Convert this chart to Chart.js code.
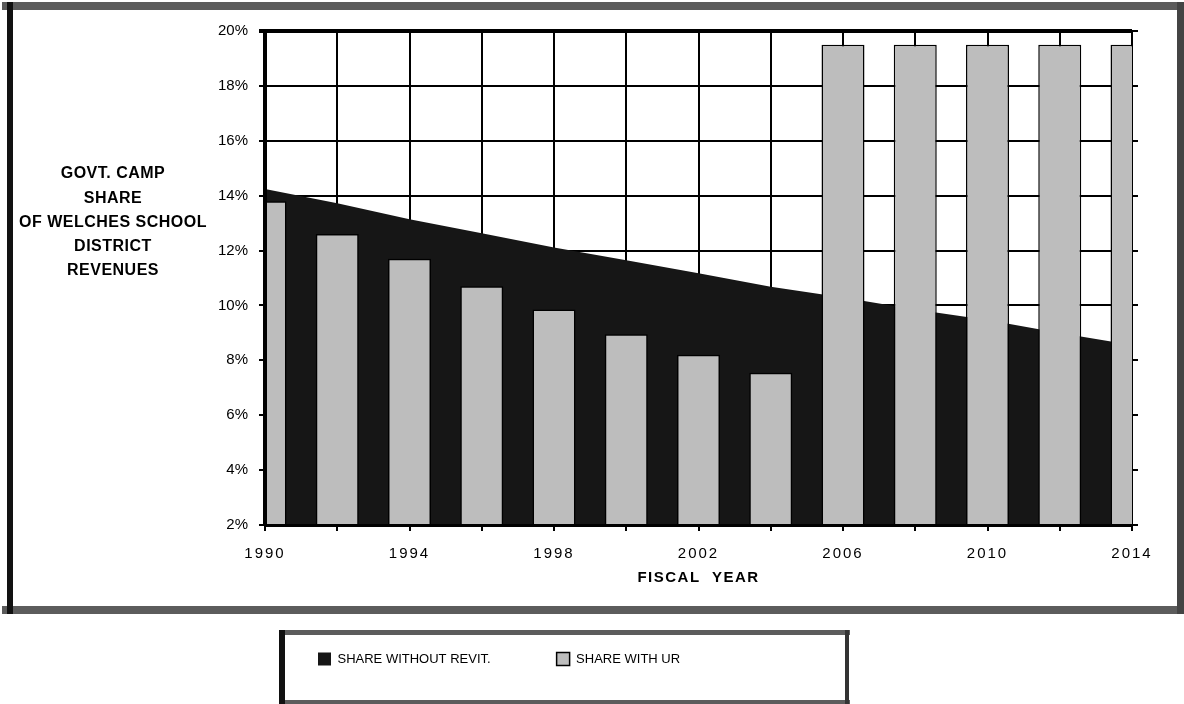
<!DOCTYPE html>
<html>
<head>
<meta charset="utf-8">
<title>Govt. Camp share of Welches School District revenues</title>
<script src="https://cdn.jsdelivr.net/npm/chart.js@4.4.1/dist/chart.umd.min.js"></script>
<style>
  html, body { margin: 0; padding: 0; background: #fff; }
  #wrap { width: 1184px; height: 704px; position: relative; }
</style>
</head>
<body>
<div id="wrap"><canvas id="chart" width="1184" height="704"></canvas></div>
<script>
// Fiscal years on the category axis (one every two years)
const fiscalYears = ['1990', '1992', '1994', '1996', '1998', '2000', '2002',
                     '2004', '2006', '2008', '2010', '2012', '2014'];
// Years that carry a printed label under the axis
const labelledYears = ['1990', '1994', '1998', '2002', '2006', '2010', '2014'];

// Share of district revenues, percent
const shareWithoutRevit = [14.24, 13.72, 13.14, 12.63, 12.11, 11.65, 11.17,
                           10.68, 10.29, 9.85, 9.47, 9.0, 8.56];
const shareWithUR = [13.8, 12.6, 11.7, 10.7, 9.85, 8.95, 8.2,
                     7.55, 19.5, 19.5, 19.5, 19.5, 19.5];

// Value axis ticks
const yTickValues = [2, 4, 6, 8, 10, 12, 14, 16, 18, 20];
const yTickLabels = ['2%', '4%', '6%', '8%', '10%', '12%', '14%', '16%', '18%', '20%'];

const seriesLabels = ['SHARE WITHOUT REVIT.', 'SHARE WITH UR'];
const yAxisCaption = ['GOVT. CAMP', 'SHARE', 'OF WELCHES SCHOOL', 'DISTRICT', 'REVENUES'];
const xAxisCaption = 'FISCAL  YEAR';

const FONT = '"Liberation Sans", Arial, Helvetica, sans-serif';

// Page frames: the bordered chart panel and the bordered legend panel
const framePlugin = {
  id: 'frames',
  beforeDraw(chart) {
    // the legend sits in its own panel, left of page centre
    const lg = chart.legend;
    if (lg) {
      const dx = 252 - lg.left;
      lg.left += dx;
      lg.right += dx;
    }
    const c = chart.ctx;
    c.save();
    c.fillStyle = '#fff';
    c.fillRect(0, 0, chart.width, chart.height);
    // chart panel
    c.fillStyle = '#5c5c5c';
    c.fillRect(2, 2, 1182, 8);      // top
    c.fillRect(2, 606, 1182, 8);    // bottom
    c.fillStyle = '#111';
    c.fillRect(7, 2, 6, 612);       // left
    c.fillStyle = '#444';
    c.fillRect(1177, 2, 7, 612);    // right
    // legend panel
    c.fillStyle = '#5c5c5c';
    c.fillRect(279, 630, 571, 5);   // top
    c.fillRect(279, 700, 571, 4);   // bottom
    c.fillStyle = '#111';
    c.fillRect(279, 630, 6, 74);    // left
    c.fillStyle = '#333';
    c.fillRect(845, 630, 4, 74);    // right
    c.restore();
  },
  // the year labels are printed with wide letter spacing
  afterDatasetsDraw(chart) {
    chart.ctx.letterSpacing = '2px';
  }
};

// Horizontal axis captions (left block and bottom title)
const captionPlugin = {
  id: 'captions',
  afterDraw(chart) {
    const c = chart.ctx;
    const area = chart.chartArea;
    c.letterSpacing = '0px';
    c.save();
    c.fillStyle = '#000';
    c.textAlign = 'center';
    c.textBaseline = 'middle';
    c.font = 'bold 16px ' + FONT;
    c.letterSpacing = '0.5px';
    yAxisCaption.forEach((line, i) => c.fillText(line, 113, 174 + i * 24.2));
    c.font = 'bold 15px ' + FONT;
    c.letterSpacing = '1.5px';
    c.fillText(xAxisCaption, (area.left + area.right) / 2, 578);
    c.restore();
    c.letterSpacing = '0px';
  }
};

const ctx = document.getElementById('chart').getContext('2d');
new Chart(ctx, {
  type: 'bar',
  data: {
    labels: fiscalYears,
    datasets: [
      {
        type: 'line',
        label: seriesLabels[0],
        data: shareWithoutRevit,
        fill: 'start',
        backgroundColor: '#161616',
        borderColor: '#161616',
        borderWidth: 0,
        pointRadius: 0,
        tension: 0,
        order: 1
      },
      {
        type: 'bar',
        label: seriesLabels[1],
        data: shareWithUR,
        backgroundColor: '#bdbdbd',
        borderColor: '#000',
        borderWidth: 1.5,
        barPercentage: 0.595,
        categoryPercentage: 1,
        order: 0
      }
    ]
  },
  options: {
    responsive: false,
    animation: false,
    events: [],
    layout: { padding: { left: 0, right: 46, top: 31, bottom: 28.5 } },
    plugins: {
      tooltip: { enabled: false },
      legend: {
        position: 'bottom',
        align: 'start',
        labels: {
          boxWidth: 13,
          boxHeight: 13,
          padding: 66,
          color: '#000',
          font: { family: FONT, size: 13 },
          sort: (a, b) => a.datasetIndex - b.datasetIndex
        }
      }
    },
    scales: {
      x: {
        offset: false,
        grid: { offset: false, color: '#000', lineWidth: 2, tickLength: 6 },
        border: { color: '#000', width: 3, z: 1 },
        ticks: {
          autoSkip: false,
          maxRotation: 0,
          minRotation: 0,
          padding: 14,
          color: '#000',
          font: { family: FONT, size: 15 },
          z: 1,
          callback: (v, i) => labelledYears.includes(fiscalYears[i]) ? fiscalYears[i] : ''
        },
        afterFit: (s) => { s.height = 61.5; }
      },
      y: {
        min: 2,
        max: 20,
        grid: {
          color: '#000',
          lineWidth: (c) => (c.tick && c.tick.value === 20 ? 4 : 2),
          tickLength: 6
        },
        border: { color: '#000', width: 4, z: 1 },
        ticks: {
          stepSize: 2,
          padding: 11,
          color: '#000',
          font: { family: FONT, size: 15 },
          callback: (v) => yTickLabels[yTickValues.indexOf(v)]
        },
        afterFit: (s) => { s.width = 265; }
      },
      y2: {
        position: 'right',
        min: 2,
        max: 20,
        grid: { drawOnChartArea: false, color: '#000', lineWidth: 2, tickLength: 6 },
        border: { display: false },
        ticks: { display: false, stepSize: 2 },
        afterFit: (s) => { s.width = 6; }
      }
    }
  },
  plugins: [framePlugin, captionPlugin]
});
</script>
</body>
</html>
